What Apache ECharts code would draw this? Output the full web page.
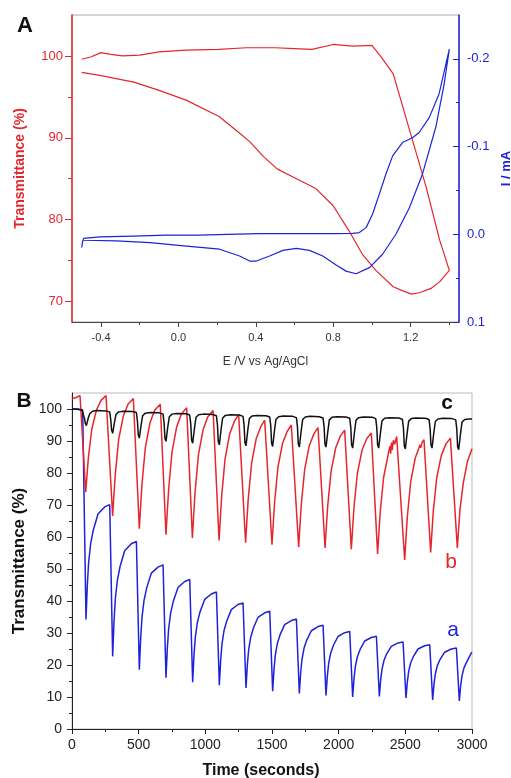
<!DOCTYPE html>
<html>
<head>
<meta charset="utf-8">
<script src="https://cdn.jsdelivr.net/npm/echarts@6/dist/echarts.min.js"></script>
<style>
  html, body { margin: 0; padding: 0; background: #fff; }
  #chart { width: 511px; height: 778px; }
</style>
</head>
<body>
<div id="chart"></div>
<script>
// ---- panel A: cyclic voltammetry with in-situ transmittance ----
const cvPotentialT = [-0.50, -0.45, -0.40, -0.35, -0.29, -0.20, -0.10, 0.04, 0.21, 0.35, 0.50, 0.60, 0.69, 0.80, 0.90, 1.00, 1.05, 1.11, 1.19, 1.28, 1.35, 1.40,
  1.35, 1.305, 1.25, 1.205, 1.16, 1.11, 1.02, 0.95, 0.88, 0.80, 0.71, 0.61, 0.51, 0.44, 0.37, 0.32, 0.21, 0.04, -0.10, -0.23, -0.40, -0.50];
const cvTrans = [99.6, 99.9, 100.4, 100.2, 100.0, 100.1, 100.5, 100.7, 100.8, 101.0, 101.0, 100.9, 100.8, 101.4, 101.2, 101.3, 99.8, 97.8, 91.3, 84.0, 77.5, 73.8,
  72.4, 71.6, 71.1, 70.9, 71.3, 71.8, 73.8, 75.8, 78.7, 81.7, 83.8, 85.0, 86.2, 87.7, 89.5, 90.5, 92.6, 94.6, 95.8, 96.8, 97.6, 98.0];

const cvPotentialI = [-0.50, -0.495, -0.49, -0.405, -0.233, -0.06, 0.11, 0.25, 0.42, 0.63, 0.80, 0.90, 0.935, 0.97, 1.003, 1.038, 1.072, 1.107, 1.158, 1.21, 1.244, 1.296, 1.347, 1.40,
  1.373, 1.33, 1.261, 1.193, 1.124, 1.055, 0.987, 0.918, 0.866, 0.815, 0.746, 0.677, 0.609, 0.54, 0.471, 0.403, 0.368, 0.316, 0.213, 0.042, -0.147, -0.32, -0.49];
const cvCurrent = [0.0153, 0.008, 0.0046, 0.003, 0.002, 0.001, 0.001, 0.0, -0.0007, -0.0007, -0.0007, -0.001, -0.002, -0.0076, -0.0228, -0.0457, -0.0685, -0.0894, -0.1046, -0.110, -0.116, -0.133, -0.160, -0.211,
  -0.171, -0.122, -0.0685, -0.030, 0.0, 0.0228, 0.038, 0.045, 0.042, 0.035, 0.0248, 0.0183, 0.016, 0.0183, 0.0248, 0.0305, 0.0305, 0.0248, 0.017, 0.0134, 0.0096, 0.0076, 0.0068];

const aPotTicks = [-0.4, 0, 0.4, 0.8, 1.2];
const aPotMinor = [-0.2, 0.2, 0.6, 1.0, 1.4];
const aTransTicks = [70, 80, 90, 100];
const aTransMinor = [75, 85, 95];
const aCurTicks = [-0.2, -0.1, 0, 0.1];
const aCurMinor = [-0.15, -0.05, 0.05];

// ---- panel B: transmittance vs time, curves a (blue), b (red), c (black) ----
const timeA = [0, 40, 80, 88,
  105, 115, 125, 140, 160, 195, 245, 283,
  305, 315, 325, 340, 360, 395, 445, 483,
  505, 515, 525, 540, 560, 595, 645, 683,
  705, 715, 725, 740, 760, 795, 845, 883,
  905, 915, 925, 940, 960, 995, 1045, 1083,
  1105, 1115, 1125, 1140, 1160, 1195, 1245, 1283,
  1305, 1315, 1325, 1340, 1360, 1395, 1445, 1483,
  1505, 1515, 1525, 1540, 1560, 1595, 1645, 1683,
  1705, 1715, 1725, 1740, 1760, 1795, 1845, 1883,
  1905, 1915, 1925, 1940, 1960, 1995, 2045, 2083,
  2105, 2115, 2125, 2140, 2160, 2195, 2245, 2283,
  2305, 2315, 2325, 2340, 2360, 2395, 2445, 2483,
  2505, 2515, 2525, 2540, 2560, 2595, 2645, 2683,
  2705, 2715, 2725, 2740, 2760, 2795, 2845, 2883,
  2905, 2915, 2925, 2940, 2960, 2995, 3000];
const transA = [100, 100, 99.8, 99.5,
  34.2, 45.0, 52.2, 57.9, 62.2, 67.2, 69.4, 70.1,
  22.7, 33.5, 40.7, 46.4, 50.7, 55.7, 57.9, 58.6,
  18.5, 28.3, 34.9, 40.1, 44.1, 48.7, 50.6, 51.3,
  16.0, 25.2, 31.4, 36.3, 39.9, 44.2, 46.1, 46.7,
  14.6, 23.1, 28.7, 33.2, 36.6, 40.5, 42.2, 42.8,
  13.7, 21.4, 26.6, 30.7, 33.7, 37.3, 38.9, 39.4,
  12.8, 20.0, 24.8, 28.6, 31.5, 34.9, 36.3, 36.8,
  11.8, 18.6, 23.1, 26.7, 29.4, 32.6, 33.9, 34.4,
  11.1, 17.5, 21.8, 25.2, 27.7, 30.7, 32.0, 32.4,
  10.5, 16.5, 20.5, 23.7, 26.1, 28.9, 30.1, 30.5,
  10.0, 15.7, 19.5, 22.5, 24.8, 27.5, 28.6, 29.0,
  10.2, 15.3, 18.7, 21.4, 23.5, 25.8, 26.9, 27.2,
  9.7, 14.7, 18.0, 20.7, 22.6, 25.0, 26.0, 26.3,
  9.1, 14.0, 17.2, 19.8, 21.7, 24.0, 25.0, 25.3,
  8.8, 13.5, 16.6, 19.1, 20.9, 23.8, 24.0];

const timeB = [0, 30, 60, 75,
  103, 111, 123, 148, 183, 218, 255,
  305, 313, 325, 350, 385, 420, 460,
  505, 513, 525, 550, 585, 620, 662,
  705, 713, 725, 750, 785, 820, 860,
  903, 911, 923, 948, 983, 1018, 1058,
  1103, 1111, 1123, 1148, 1183, 1218, 1250,
  1302, 1310, 1322, 1347, 1382, 1417, 1445,
  1500, 1508, 1520, 1545, 1580, 1615, 1645,
  1700, 1708, 1720, 1745, 1780, 1815, 1845,
  1898, 1906, 1918, 1943, 1978, 2013, 2045,
  2095, 2103, 2115, 2140, 2175, 2210, 2245,
  2292, 2300, 2312, 2337, 2372, 2385, 2390, 2396, 2402, 2410, 2420, 2435,
  2495, 2503, 2515, 2540, 2575, 2600, 2610, 2615, 2625, 2640,
  2690, 2698, 2710, 2735, 2770, 2805, 2838,
  2890, 2898, 2910, 2935, 2965, 3000];
const transB = [103.2, 103.6, 104.2, 104.4,
  74.0, 78.5, 84.9, 93.6, 99.7, 102.7, 104.2,
  66.6, 72.1, 79.8, 90.5, 97.8, 101.5, 103.3,
  62.6, 68.4, 76.6, 87.9, 95.7, 99.6, 101.5,
  60.7, 66.7, 75.0, 86.5, 94.4, 98.4, 100.4,
  59.7, 65.7, 74.0, 85.6, 93.5, 97.5, 99.5,
  58.9, 64.8, 73.0, 84.4, 92.3, 96.2, 98.2,
  58.2, 63.9, 72.0, 83.1, 90.8, 94.6, 96.5,
  57.6, 63.2, 71.1, 81.9, 89.4, 93.1, 95.0,
  56.8, 62.4, 70.3, 81.1, 88.6, 92.3, 94.2,
  56.6, 62.1, 69.8, 80.5, 87.9, 91.6, 93.4,
  56.2, 61.6, 69.3, 79.8, 87.1, 90.7, 92.5,
  54.7, 60.2, 67.9, 78.6, 85.9, 88.5, 86.0, 89.5, 87.2, 90.2, 89.0, 91.4,
  52.8, 58.4, 66.3, 77.2, 84.8, 87.6, 88.8, 87.9, 89.5, 90.4,
  55.2, 60.6, 68.1, 78.4, 85.5, 89.1, 90.9,
  56.6, 61.5, 68.6, 77.0, 83.5, 87.6];

const timeC = [0, 40, 75, 86, 94, 100, 108, 114, 122, 133, 153, 188, 255,
  283, 291, 297, 305, 311, 319, 330, 350, 385, 455,
  483, 491, 497, 505, 511, 519, 530, 550, 585, 655,
  683, 691, 697, 705, 711, 719, 730, 750, 785, 855,
  883, 891, 897, 905, 911, 919, 930, 950, 985, 1055,
  1083, 1091, 1097, 1105, 1111, 1119, 1130, 1150, 1185, 1255,
  1283, 1291, 1297, 1305, 1311, 1319, 1330, 1350, 1385, 1455,
  1483, 1491, 1497, 1505, 1511, 1519, 1530, 1550, 1585, 1655,
  1683, 1691, 1697, 1705, 1711, 1719, 1730, 1750, 1785, 1855,
  1883, 1891, 1897, 1905, 1911, 1919, 1930, 1950, 1985, 2055,
  2083, 2091, 2097, 2105, 2111, 2119, 2130, 2150, 2185, 2255,
  2278, 2286, 2292, 2300, 2306, 2314, 2325, 2345, 2380, 2450,
  2478, 2486, 2492, 2500, 2506, 2514, 2525, 2545, 2580, 2650,
  2678, 2686, 2692, 2700, 2706, 2714, 2725, 2745, 2780, 2850,
  2878, 2886, 2892, 2900, 2906, 2914, 2925, 2945, 2980, 3000];
const transC = [100.0, 99.9, 99.6, 99.2, 97.0, 95.5, 94.8, 95.2, 97.2, 98.5, 99.3, 99.5, 99.4,
  99.1, 96.5, 93.4, 92.4, 92.9, 96.0, 98.3, 99.1, 99.3, 99.2,
  98.9, 96.0, 91.9, 90.9, 91.4, 95.2, 97.9, 98.7, 98.9, 98.8,
  98.4, 95.5, 90.9, 89.9, 90.4, 94.6, 97.6, 98.4, 98.6, 98.5,
  98.1, 95.2, 90.3, 89.3, 89.8, 94.2, 97.4, 98.2, 98.4, 98.3,
  97.9, 95.0, 89.8, 88.8, 89.3, 93.9, 97.2, 98.0, 98.2, 98.1,
  97.7, 94.8, 89.5, 88.5, 89.0, 93.6, 97.0, 97.8, 98.0, 97.9,
  97.5, 94.6, 89.3, 88.3, 88.8, 93.4, 96.8, 97.6, 97.8, 97.7,
  97.3, 94.4, 89.1, 88.1, 88.6, 93.2, 96.7, 97.5, 97.7, 97.6,
  97.2, 94.3, 89.1, 88.1, 88.6, 93.1, 96.6, 97.4, 97.6, 97.5,
  97.1, 94.2, 88.8, 87.8, 88.3, 92.9, 96.5, 97.3, 97.5, 97.4,
  97.0, 94.1, 88.8, 87.8, 88.3, 92.8, 96.3, 97.1, 97.3, 97.2,
  96.8, 93.9, 88.5, 87.5, 88.0, 92.6, 96.2, 97.0, 97.2, 97.1,
  96.7, 93.8, 88.8, 87.8, 88.3, 92.7, 96.1, 96.9, 97.1, 97.0,
  96.6, 93.7, 88.3, 87.3, 87.8, 92.3, 95.9, 96.7, 96.9, 96.9];

const bTransTicks = [0, 10, 20, 30, 40, 50, 60, 70, 80, 90, 100];
const bTransMinor = [5, 15, 25, 35, 45, 55, 65, 75, 85, 95];

const FONT = "'Liberation Sans', Arial, sans-serif";
const RED = "#e5262d";
const BLUE = "#1f22d8";
const DARK = "#222";

function pairs(xs, ys) {
  return xs.map((x, i) => [x, ys[i]]);
}

// extra axis on the same side, used only to draw the short minor ticks
function minorAxis(gridIndex, position, min, max, values, color, length, inside, inverse) {
  return {
    gridIndex: gridIndex,
    type: "value",
    position: position,
    min: min,
    max: max,
    inverse: !!inverse,
    axisLine: { show: false, onZero: false },
    axisTick: { show: true, inside: !!inside, customValues: values, length: length, lineStyle: { color: color } },
    axisLabel: { show: false },
    splitLine: { show: false },
  };
}

const chart = echarts.init(document.getElementById("chart"), null, { renderer: "canvas" });

chart.setOption({
  animation: false,
  backgroundColor: "#fff",
  textStyle: { fontFamily: FONT },
  grid: [
    { left: 72, top: 15, width: 387, height: 307, outerBoundsMode: "none", show: true, borderColor: "#aaa", borderWidth: 1 },
    { left: 72, top: 393, width: 400, height: 336, outerBoundsMode: "none", show: true, borderColor: "#bbb", borderWidth: 1 },
  ],
  xAxis: [
    {
      gridIndex: 0,
      type: "value",
      position: "bottom",
      min: -0.55,
      max: 1.45,
      axisLine: { onZero: false, lineStyle: { color: "#444" } },
      axisTick: { customValues: aPotTicks, length: 5, lineStyle: { color: "#444" } },
      axisLabel: {
        customValues: aPotTicks,
        color: "#333",
        fontSize: 11,
        margin: 10,
        formatter: (v) => v.toFixed(1),
      },
      splitLine: { show: false },
      name: "E /V vs Ag/AgCl",
      nameLocation: "middle",
      nameGap: 34,
      nameTextStyle: { color: "#333", fontSize: 12 },
    },
    minorAxis(0, "bottom", -0.55, 1.45, aPotMinor, "#444", 3),
    {
      gridIndex: 1,
      type: "value",
      position: "bottom",
      min: 0,
      max: 3000,
      interval: 500,
      axisLine: { onZero: false, lineStyle: { color: DARK } },
      axisTick: { length: 5, lineStyle: { color: DARK } },
      minorTick: { show: true, splitNumber: 2, length: 3, lineStyle: { color: DARK } },
      axisLabel: { color: DARK, fontSize: 14, margin: 9, formatter: (v) => String(v) },
      splitLine: { show: false },
      name: "Time (seconds)",
      nameLocation: "middle",
      nameGap: 34,
      nameTextStyle: { color: "#111", fontSize: 16, fontWeight: "bold", padding: [0, 22, 0, 0] },
    },
  ],
  yAxis: [
    {
      gridIndex: 0,
      type: "value",
      position: "left",
      min: 67.5,
      max: 105,
      axisLine: { show: true, onZero: false, lineStyle: { color: RED, width: 1.5 } },
      axisTick: { show: true, customValues: aTransTicks, length: 7, lineStyle: { color: RED } },
      axisLabel: { customValues: aTransTicks, color: RED, fontSize: 13, margin: 9 },
      splitLine: { show: false },
      name: "Transmittance (%)",
      nameLocation: "middle",
      nameRotate: 90,
      nameGap: 45,
      nameTextStyle: { color: RED, fontSize: 14, fontWeight: "bold" },
    },
    minorAxis(0, "left", 67.5, 105, aTransMinor, RED, 4),
    {
      gridIndex: 0,
      type: "value",
      position: "right",
      inverse: true,
      min: -0.25,
      max: 0.1,
      axisLine: { show: true, onZero: false, lineStyle: { color: BLUE, width: 1.5 } },
      axisTick: { show: true, inside: true, customValues: aCurTicks, length: 6, lineStyle: { color: BLUE } },
      axisLabel: {
        customValues: aCurTicks,
        color: BLUE,
        fontSize: 13,
        margin: 8,
        formatter: (v) => v.toFixed(1),
      },
      splitLine: { show: false },
      name: "I / mA",
      nameLocation: "middle",
      nameRotate: 90,
      nameGap: 39,
      nameTextStyle: { color: BLUE, fontSize: 13, fontWeight: "bold" },
    },
    minorAxis(0, "right", -0.25, 0.1, aCurMinor, BLUE, 3, true, true),
    {
      gridIndex: 1,
      type: "value",
      position: "left",
      min: 0,
      max: 105,
      axisLine: { show: true, onZero: false, lineStyle: { color: DARK } },
      axisTick: { show: true, customValues: bTransTicks, length: 5, lineStyle: { color: DARK } },
      axisLabel: { customValues: bTransTicks, color: DARK, fontSize: 14, margin: 10 },
      splitLine: { show: false },
      name: "Transmittance (%)",
      nameLocation: "middle",
      nameRotate: 90,
      nameGap: 36,
      nameTextStyle: { color: "#111", fontSize: 17, fontWeight: "bold" },
    },
    minorAxis(1, "left", 0, 105, bTransMinor, DARK, 3),
  ],
  series: [
    {
      name: "transmittance",
      type: "line",
      xAxisIndex: 0,
      yAxisIndex: 0,
      data: pairs(cvPotentialT, cvTrans),
      showSymbol: false,
      lineStyle: { color: RED, width: 1.2 },
    },
    {
      name: "current",
      type: "line",
      xAxisIndex: 0,
      yAxisIndex: 2,
      data: pairs(cvPotentialI, cvCurrent),
      showSymbol: false,
      lineStyle: { color: BLUE, width: 1.2 },
    },
    {
      name: "a",
      type: "line",
      xAxisIndex: 2,
      yAxisIndex: 4,
      data: pairs(timeA, transA),
      showSymbol: false,
      lineStyle: { color: BLUE, width: 1.5 },
    },
    {
      name: "b",
      type: "line",
      xAxisIndex: 2,
      yAxisIndex: 4,
      data: pairs(timeB, transB),
      showSymbol: false,
      lineStyle: { color: RED, width: 1.5 },
    },
    {
      name: "c",
      type: "line",
      xAxisIndex: 2,
      yAxisIndex: 4,
      data: pairs(timeC, transC),
      showSymbol: false,
      lineStyle: { color: "#111", width: 1.5 },
    },
  ],
  graphic: [
    { type: "text", x: 25, y: 26, style: { text: "A", fontFamily: FONT, fontSize: 22, fontWeight: "bold", fill: "#111", align: "center", verticalAlign: "middle" } },
    { type: "text", x: 24, y: 401, style: { text: "B", fontFamily: FONT, fontSize: 21, fontWeight: "bold", fill: "#111", align: "center", verticalAlign: "middle" } },
    { type: "text", x: 447, y: 403, style: { text: "c", fontFamily: FONT, fontSize: 21, fontWeight: "bold", fill: "#111", align: "center", verticalAlign: "middle" } },
    { type: "text", x: 451, y: 562, style: { text: "b", fontFamily: FONT, fontSize: 21, fill: RED, align: "center", verticalAlign: "middle" } },
    { type: "text", x: 453, y: 630, style: { text: "a", fontFamily: FONT, fontSize: 21, fill: BLUE, align: "center", verticalAlign: "middle" } },
  ],
});
</script>
</body>
</html>
